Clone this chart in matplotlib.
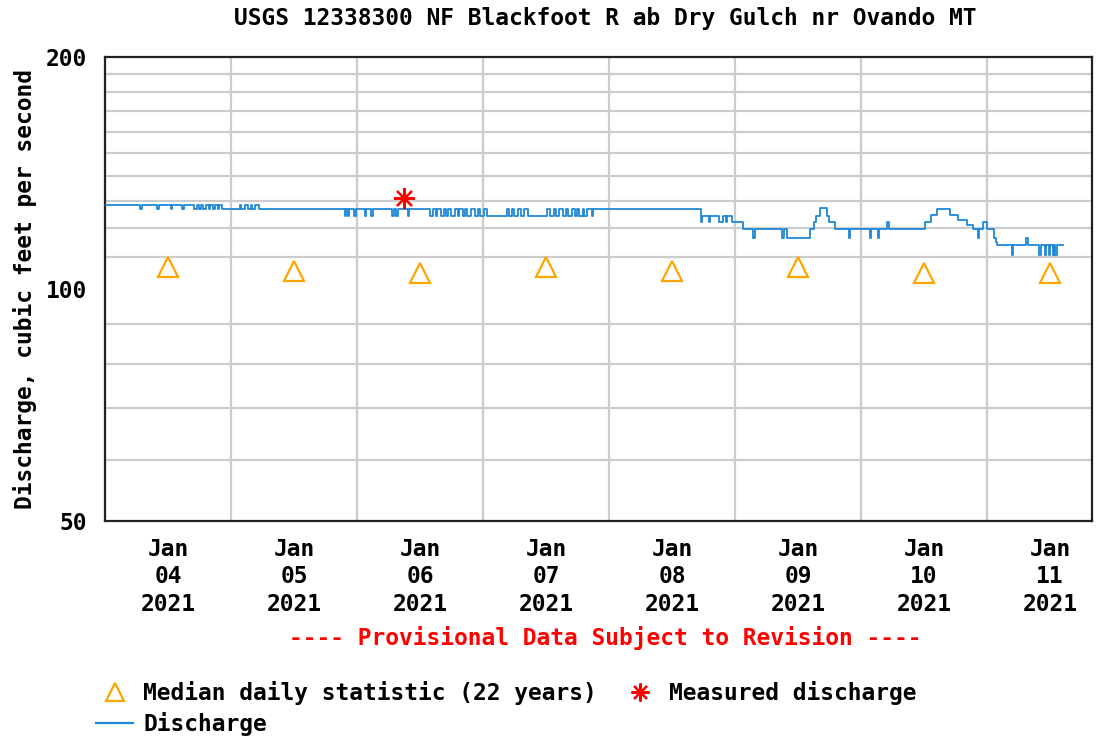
import pandas as pd
import matplotlib
matplotlib.use("Agg")
import matplotlib.pyplot as plt
import matplotlib.dates as mdates
from matplotlib.ticker import FixedLocator, FixedFormatter, NullFormatter
from matplotlib.lines import Line2D

# discharge change points (15-minute data, drawn as steps), cfs
discharge_time = [
    "01-04 00:00", "01-04 06:45", "01-04 07:00", "01-04 10:00", "01-04 10:15",
    "01-04 12:30", "01-04 12:45", "01-04 14:45", "01-04 15:00", "01-04 17:00",
    "01-04 17:30", "01-04 18:00", "01-04 18:15", "01-04 18:45", "01-04 19:15",
    "01-04 19:45", "01-04 20:00", "01-04 20:30", "01-04 21:00", "01-04 21:30",
    "01-04 21:45", "01-04 22:15",
    "01-05 01:45", "01-05 02:00", "01-05 02:45", "01-05 03:15", "01-05 03:45",
    "01-05 04:00", "01-05 04:30", "01-05 05:15", "01-05 21:45", "01-05 22:00",
    "01-05 22:15", "01-05 22:30", "01-05 23:30", "01-05 23:45",
    "01-06 01:30", "01-06 01:45", "01-06 02:45", "01-06 03:00", "01-06 06:45",
    "01-06 07:00", "01-06 07:30", "01-06 07:45", "01-06 09:45", "01-06 10:00",
    "01-06 14:00", "01-06 14:30", "01-06 15:00", "01-06 15:15", "01-06 16:00",
    "01-06 16:30", "01-06 17:00", "01-06 17:15", "01-06 18:00", "01-06 18:45",
    "01-06 19:15", "01-06 19:30", "01-06 20:15", "01-06 20:30", "01-06 21:00",
    "01-06 21:45", "01-06 22:30", "01-06 23:00", "01-06 23:30",
    "01-07 00:15", "01-07 00:45", "01-07 04:30", "01-07 05:00", "01-07 05:30",
    "01-07 06:00", "01-07 06:45", "01-07 07:15", "01-07 07:45", "01-07 08:30",
    "01-07 12:15", "01-07 12:45", "01-07 13:30", "01-07 14:00", "01-07 14:30",
    "01-07 15:15", "01-07 15:45", "01-07 16:15", "01-07 17:00", "01-07 17:30",
    "01-07 18:00", "01-07 18:15", "01-07 19:00", "01-07 19:15", "01-07 19:45",
    "01-07 20:45", "01-07 21:00",
    "01-08 17:30", "01-08 17:45", "01-08 19:00", "01-08 19:15", "01-08 21:00",
    "01-08 21:45", "01-08 22:15", "01-08 22:30", "01-08 23:30",
    "01-09 01:30", "01-09 03:30", "01-09 03:45", "01-09 09:00", "01-09 09:15",
    "01-09 10:00", "01-09 14:15", "01-09 15:00", "01-09 15:30", "01-09 16:15",
    "01-09 17:30", "01-09 18:00", "01-09 19:00", "01-09 21:45", "01-09 22:00",
    "01-10 01:45", "01-10 02:00", "01-10 03:15", "01-10 03:30", "01-10 05:00",
    "01-10 05:15", "01-10 12:15", "01-10 13:15", "01-10 14:30", "01-10 17:00",
    "01-10 18:30", "01-10 20:15", "01-10 21:15", "01-10 22:15", "01-10 22:30",
    "01-10 23:15",
    "01-11 00:00", "01-11 01:15", "01-11 01:45", "01-11 02:00", "01-11 04:45",
    "01-11 05:00", "01-11 07:30", "01-11 07:45", "01-11 10:00", "01-11 10:15",
    "01-11 11:00", "01-11 11:15", "01-11 11:45", "01-11 12:00", "01-11 12:30",
    "01-11 12:45", "01-11 13:00", "01-11 13:15", "01-11 14:30",
]
discharge_cfs = [
    128.5, 127.0, 128.5, 127.0, 128.5,
    127.0, 128.5, 127.0, 128.5, 127.0,
    128.5, 127.0, 128.5, 127.0, 128.5,
    127.0, 128.5, 127.0, 128.5, 127.0,
    128.5, 127.0,
    128.5, 127.0, 128.5, 127.0, 128.5,
    127.0, 128.5, 127.0, 124.4, 127.0,
    124.4, 127.0, 124.4, 127.0,
    124.4, 127.0, 124.4, 127.0, 124.4,
    127.0, 124.4, 127.0, 124.4, 127.0,
    124.4, 127.0, 124.4, 127.0, 124.4,
    127.0, 124.4, 127.0, 124.4, 127.0,
    124.4, 127.0, 124.4, 127.0, 124.4,
    127.0, 124.4, 127.0, 124.4,
    127.0, 124.4, 127.0, 124.4, 127.0,
    124.4, 127.0, 124.4, 127.0, 124.4,
    127.0, 124.4, 127.0, 124.4, 127.0,
    124.4, 127.0, 124.4, 127.0, 124.4,
    127.0, 124.4, 127.0, 124.4, 127.0,
    124.4, 127.0,
    122.2, 124.4, 122.2, 124.4, 122.2,
    124.4, 122.2, 124.4, 122.2,
    119.5, 116.6, 119.5, 116.6, 119.5,
    116.6, 119.5, 122.2, 124.4, 127.4,
    124.4, 122.2, 119.5, 116.6, 119.5,
    116.6, 119.5, 116.6, 119.5, 122.2,
    119.5, 122.2, 124.8, 127.0, 124.8,
    122.9, 121.1, 119.5, 116.6, 119.5,
    122.2,
    119.5, 116.6, 115.1, 114.0, 110.7,
    114.0, 116.6, 114.0, 110.7, 114.0,
    110.7, 114.0, 110.7, 114.0, 110.7,
    114.0, 110.7, 114.0, 114.0,
]

# median daily statistic (22 years), plotted at noon
median_days = ["01-04", "01-05", "01-06", "01-07", "01-08", "01-09", "01-10", "01-11"]
median_cfs = [106.8, 105.4, 104.8, 106.8, 105.4, 106.8, 104.8, 104.8]

# field measurement
measured_time = ["01-06 09:00"]
measured_cfs = [131.2]

FONT = "DejaVu Sans Mono"
FS = 16.5
plt.rcParams["font.family"] = FONT
plt.rcParams["font.weight"] = "bold"
plt.rcParams["axes.labelweight"] = "bold"

t_dis = pd.to_datetime(["2021-" + s for s in discharge_time])
t_med = pd.to_datetime(["2021-" + d + " 12:00" for d in median_days])
t_meas = pd.to_datetime(["2021-" + s for s in measured_time])

fig = plt.figure(figsize=(11.06, 7.38), dpi=100)
ax = fig.add_axes([0.0949, 0.2940, 0.8924, 0.6288])

blue = "#1f88d8"
orange = "#ffa500"

ax.plot(t_dis, discharge_cfs, drawstyle="steps-post", color=blue, lw=1.3, zorder=3)
ax.plot(t_med, median_cfs, ls="none", marker="^", ms=15, mfc="none",
        mec=orange, mew=1.6, zorder=4)
ax.plot(t_meas, measured_cfs, ls="none", marker=(8, 2, 0), ms=15,
        mec="red", mew=1.6, zorder=5)

ax.set_yscale("log")
ax.set_ylim(50, 200)
ax.yaxis.set_major_locator(FixedLocator([50, 100, 200]))
ax.yaxis.set_major_formatter(FixedFormatter(["50", "100", "200"]))
ax.yaxis.set_minor_locator(FixedLocator(list(range(60, 200, 10))))
ax.yaxis.set_minor_formatter(NullFormatter())

ax.set_xlim(pd.Timestamp("2021-01-04 00:00"), pd.Timestamp("2021-01-11 20:00"))
ax.xaxis.set_major_locator(mdates.DayLocator())
ax.xaxis.set_major_formatter(NullFormatter())
ax.xaxis.set_minor_locator(mdates.HourLocator(byhour=12))
ax.xaxis.set_minor_formatter(mdates.DateFormatter("%b\n%d\n%Y"))

ax.grid(True, which="major", axis="x", color="#cccccc", lw=1.6)
ax.grid(True, which="minor", axis="y", color="#cccccc", lw=1.6)
ax.set_axisbelow(True)

ax.tick_params(which="both", length=0)
ax.tick_params(axis="y", which="major", labelsize=FS, pad=13)
ax.tick_params(axis="x", which="minor", labelsize=FS, pad=12)
for lab in ax.xaxis.get_minorticklabels():
    lab.set_linespacing(1.25)

for sp in ax.spines.values():
    sp.set_linewidth(1.6)
    sp.set_color("#222222")

ax.set_ylabel("Discharge, cubic feet per second", fontsize=FS, labelpad=6)

fig.text(0.547, 0.975, "USGS 12338300 NF Blackfoot R ab Dry Gulch nr Ovando MT",
         ha="center", va="center", fontsize=FS)
fig.text(0.547, 0.135, "---- Provisional Data Subject to Revision ----",
         ha="center", va="center", fontsize=FS, color="red")

handles = [
    Line2D([], [], ls="none", marker="^", ms=13, mfc="none", mec=orange, mew=1.6),
    Line2D([], [], color=blue, lw=1.6),
    Line2D([], [], ls="none", marker=(8, 2, 0), ms=13, mec="red", mew=1.6),
]
labels = ["Median daily statistic (22 years)", "Discharge", "Measured discharge"]
fig.legend(handles, labels, loc="upper left", bbox_to_anchor=(0.087, 0.077),
           ncol=2, frameon=False, fontsize=FS, handlelength=1.6,
           handletextpad=0.45, columnspacing=1.1, labelspacing=0.3,
           borderpad=0, borderaxespad=0)

fig.savefig("out.png", dpi=100)
